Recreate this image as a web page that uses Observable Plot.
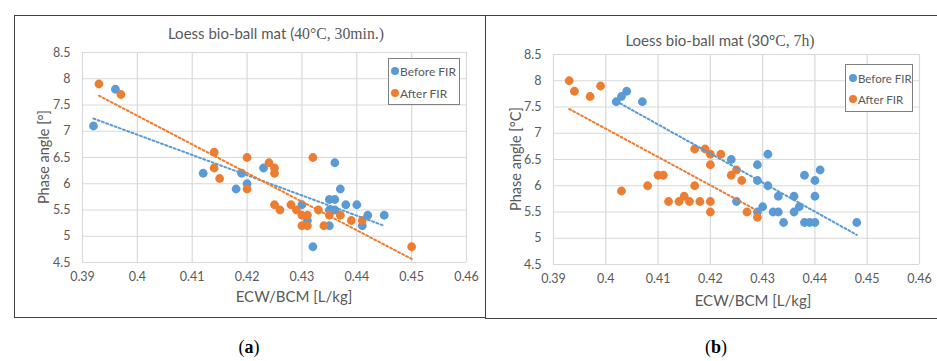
<!DOCTYPE html>
<html><head><meta charset="utf-8">
<script src="https://cdn.jsdelivr.net/npm/d3@7"></script>
<script src="https://cdn.jsdelivr.net/npm/@observablehq/plot@0.6"></script>
<style>
body{margin:0;background:#fff;}
#wrap{position:relative;width:937px;height:361px;overflow:hidden;background:#fff;font-family:Lato,"Open Sans",sans-serif;color:#595959;}
.abs{position:absolute;}
.c{position:absolute;transform:translate(-50%,-50%);white-space:nowrap;}
.serif{font-family:"Liberation Serif","DejaVu Serif",serif;font-size:1.05em;}
.leg{position:absolute;border:1.5px solid #808080;background:#fff;box-sizing:border-box;}
.dotk{position:absolute;width:8px;height:8px;border-radius:50%;transform:translate(-50%,-50%);}
.legt{position:absolute;transform:translateY(-50%);white-space:nowrap;}
svg{position:absolute;}
</style></head><body><div id="wrap"></div>
<script>
// ---- data ----
const xTicks = [0.39, 0.40, 0.41, 0.42, 0.43, 0.44, 0.45, 0.46];
const yTicks = [4.5, 5, 5.5, 6, 6.5, 7, 7.5, 8, 8.5];
const seriesNames = ["Before FIR", "After FIR"];

// (a) 40°C, 30min.
const aBeforeX = [0.392,0.396,0.412,0.418,0.419,0.420,0.423,0.430,0.431,0.432,0.435,0.436,0.435,0.436,0.435,0.436,0.437,0.438,0.440,0.441,0.442,0.445];
const aBeforeY = [7.1,7.8,6.2,5.9,6.2,6.0,6.3,5.6,5.3,4.8,5.7,5.7,5.5,5.5,5.2,6.4,5.9,5.6,5.6,5.2,5.4,5.4];
const aAfterX = [0.393,0.397,0.414,0.414,0.415,0.420,0.420,0.424,0.425,0.425,0.425,0.426,0.428,0.429,0.430,0.431,0.430,0.431,0.432,0.433,0.434,0.435,0.437,0.439,0.441,0.450];
const aAfterY = [7.9,7.7,6.6,6.3,6.1,6.5,5.9,6.4,6.3,6.2,5.6,5.5,5.6,5.5,5.4,5.4,5.2,5.2,6.5,5.5,5.2,5.4,5.4,5.3,5.3,4.8];

// (b) 30°C, 7h
const bBeforeX = [0.402,0.403,0.404,0.407,0.424,0.425,0.429,0.429,0.429,0.430,0.431,0.431,0.432,0.433,0.433,0.434,0.436,0.436,0.437,0.438,0.438,0.439,0.440,0.440,0.440,0.441,0.448];
const bBeforeY = [7.6,7.7,7.8,7.6,6.5,5.7,6.4,6.1,5.5,5.6,6.6,6.0,5.5,5.5,5.8,5.3,5.8,5.5,5.6,6.2,5.3,5.3,5.3,6.1,5.8,6.3,5.3];
const bAfterX = [0.393,0.394,0.397,0.399,0.403,0.408,0.410,0.411,0.412,0.414,0.415,0.416,0.417,0.417,0.418,0.419,0.420,0.420,0.420,0.420,0.422,0.424,0.425,0.426,0.427,0.429];
const bAfterY = [8.0,7.8,7.7,7.9,5.9,6.0,6.2,6.2,5.7,5.7,5.8,5.7,6.0,6.7,5.7,6.7,6.6,6.4,5.7,5.5,6.6,6.2,6.3,6.1,5.5,5.4];

const colors = ["#5B9BD5", "#ED7D31"];
const toRows = (xs, ys) => xs.map((x, i) => ({x, y: ys[i]}));

const wrap = document.getElementById("wrap");
function add(html){ wrap.insertAdjacentHTML("beforeend", html); }

function panel(o){
  const before = toRows(o.bx, o.by), after = toRows(o.ax, o.ay);
  const svg = Plot.plot({
    width: o.width, height: o.height,
    marginLeft: o.ml, marginRight: o.mr, marginTop: o.mt, marginBottom: o.mb,
    style: {fontFamily: "Lato, 'Open Sans', sans-serif", fontSize: "12px", color: "#595959", background: "transparent", overflow: "visible"},
    x: {domain: [0.39, 0.46]},
    y: {domain: [4.5, 8.5]},
    marks: [
      Plot.gridX(xTicks, {stroke: "#d9d9d9", strokeOpacity: 1, strokeWidth: 1.2}),
      Plot.gridY(yTicks, {stroke: "#d9d9d9", strokeOpacity: 1, strokeWidth: 1.2}),
      Plot.axisX(xTicks, {tickSize: 0, tickPadding: 10, label: null, tickFormat: d => String(+d.toFixed(2)), fontSize: 12.5}),
      Plot.axisY(yTicks, {tickSize: 0, tickPadding: 12, label: null, tickFormat: d => String(d), fontSize: 12.5}),
      Plot.dot(before, {x: "x", y: "y", r: 4.4, fill: colors[0]}),
      Plot.dot(after, {x: "x", y: "y", r: 4.4, fill: colors[1]}),
      Plot.linearRegressionY(before, {x: "x", y: "y", stroke: colors[0], strokeWidth: 2, strokeDasharray: "2,2.5", ci: 0}),
      Plot.linearRegressionY(after, {x: "x", y: "y", stroke: colors[1], strokeWidth: 2, strokeDasharray: "2,2.5", ci: 0})
    ]
  });
  svg.style.left = o.left + "px";
  svg.style.top = o.top + "px";
  wrap.appendChild(svg);
}

// panel frames
add('<div class="abs" style="left:14px;top:15px;width:472px;height:303px;border:1.3px solid #404040;box-sizing:border-box;"></div>');
add('<div class="abs" style="left:485px;top:15px;width:460px;height:304px;border:1.3px solid #404040;border-right:none;box-sizing:border-box;"></div>');

panel({left: 14, top: 15, width: 472, height: 303, ml: 68, mr: 20, mt: 37, mb: 56,
  bx: aBeforeX, by: aBeforeY, ax: aAfterX, ay: aAfterY});
panel({left: 486, top: 15, width: 451, height: 303, ml: 67, mr: 18, mt: 39, mb: 54,
  bx: bBeforeX, by: bBeforeY, ax: bAfterX, ay: bAfterY});

// titles
add('<div class="c" style="left:276px;top:33px;font-size:15px;">Loess bio-ball mat (<span class="serif">40°C, 30min.)</span></div>');
add('<div class="c" style="left:720px;top:40px;font-size:15px;">Loess bio-ball mat (30°<span class="serif">C, 7h)</span></div>');
// axis labels
add('<div class="c" style="left:43px;top:157px;font-size:14.5px;transform:translate(-50%,-50%) rotate(-90deg);">Phase angle [°]</div>');
add('<div class="c" style="left:515px;top:159px;font-size:14.5px;transform:translate(-50%,-50%) rotate(-90deg);">Phase angle [°C]</div>');
add('<div class="c" style="left:294px;top:296px;font-size:15px;">ECW/BCM [L/kg]</div>');
add('<div class="c" style="left:753px;top:300px;font-size:15px;">ECW/BCM [L/kg]</div>');
// legends
function legend(l, t, w, h, dx, y1, y2, fs){
  add(`<div class="leg" style="left:${l}px;top:${t}px;width:${w}px;height:${h}px;"></div>`);
  [y1, y2].forEach((yy, i) => {
    add(`<div class="dotk" style="left:${l+dx}px;top:${yy}px;background:${colors[i]}"></div>`);
    add(`<div class="legt" style="left:${l+dx+5}px;top:${yy}px;font-size:${fs}px;">${seriesNames[i]}</div>`);
  });
}
legend(388, 58, 72, 47, 7, 71, 93, 12);
legend(845, 64, 68, 48, 8, 78, 99, 11.5);
// panel captions
add('<div class="c serif" style="left:249px;top:347px;font-size:18px;color:#000;">(<b>a</b>)</div>');
add('<div class="c serif" style="left:716px;top:347px;font-size:18px;color:#000;">(<b>b</b>)</div>');
</script></body></html>
